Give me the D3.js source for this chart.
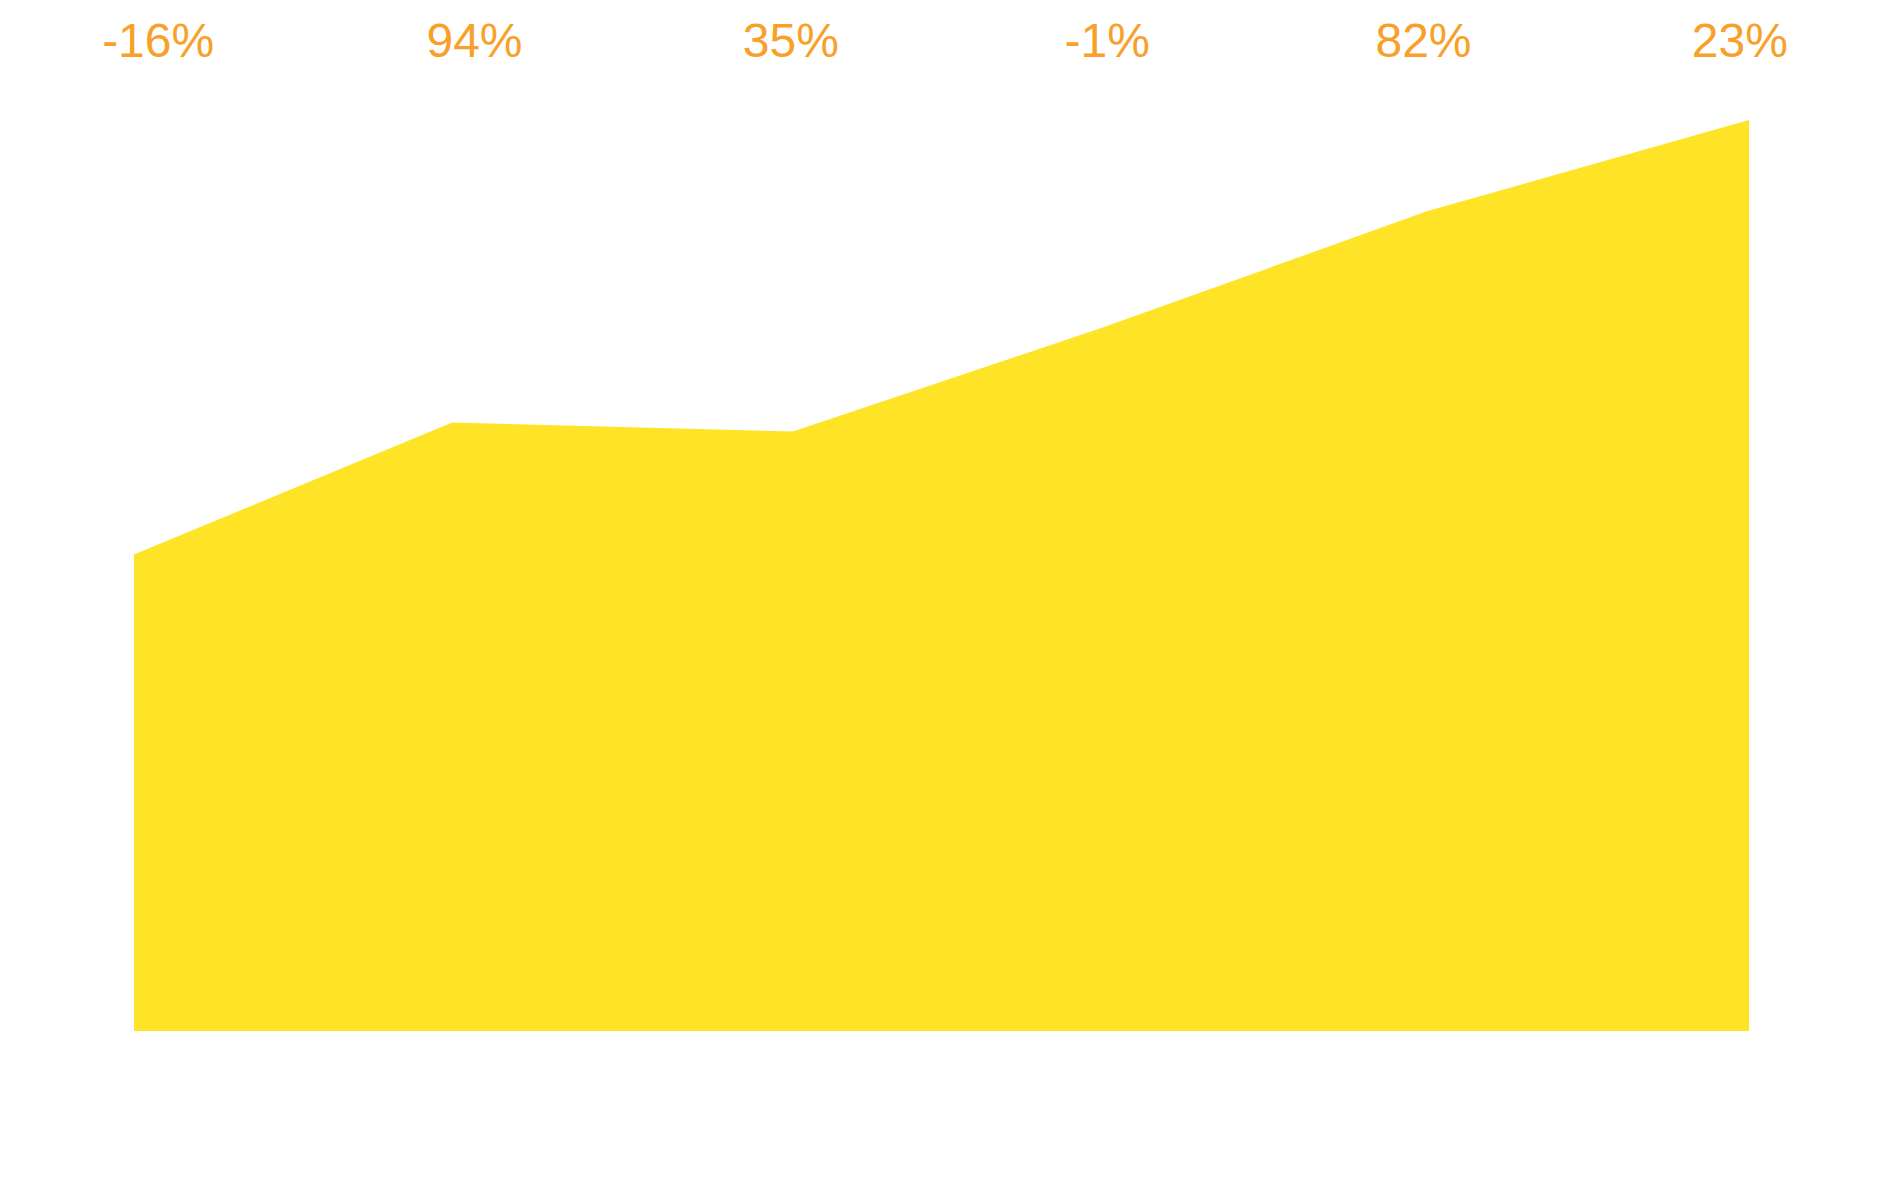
<!DOCTYPE html>
<html lang="en">
  <head>
    <meta charset="utf-8"/>
    <title>Area chart</title>
    <style>
      html, body { margin: 0; padding: 0; background: #fff; }
      svg { display: block; }
      .change { font-family: "Liberation Sans", Arial, sans-serif; font-size: 48px; fill: #f7a12b; }
    </style>
  </head>
  <body>
    <div id="chart"></div>
    <script src="https://d3js.org/d3.v7.min.js"></script>
    <script>
      // position of each period along the x axis (0-100)
      const periods = [0, 19.7, 40.8, 59.8, 80.1, 100];
      // area heights (0-100 scale)
      const values = [52.3, 66.8, 65.8, 77.1, 90.0, 100];
      // percentage labels shown along the top
      const changes = ["-16%", "94%", "35%", "-1%", "82%", "23%"];

      const width = 1898;
      const height = 1177;

      const svg = d3.select("#chart").append("svg")
          .attr("width", width)
          .attr("height", height)
          .attr("viewBox", [0, 0, width, height]);

      const x = d3.scaleLinear()
          .domain([0, 100])
          .range([134, 1749]);

      const y = d3.scaleLinear()
          .domain([0, 100])
          .range([1031, 120]);

      // labels sit in equal bands across the whole width
      const band = d3.scaleBand()
          .domain(d3.range(changes.length))
          .range([0, width]);

      const area = d3.area()
          .x((d, i) => x(periods[i]))
          .y0(y(0))
          .y1(d => y(d));

      svg.append("path")
          .datum(values)
          .attr("fill", "#ffe327")
          .attr("d", area);

      svg.append("g")
        .selectAll("text")
        .data(changes)
        .join("text")
          .attr("class", "change")
          .attr("x", (d, i) => band(i) + band.bandwidth() / 2)
          .attr("y", 57)
          .attr("text-anchor", "middle")
          .text(d => d);
    </script>
  </body>
</html>
